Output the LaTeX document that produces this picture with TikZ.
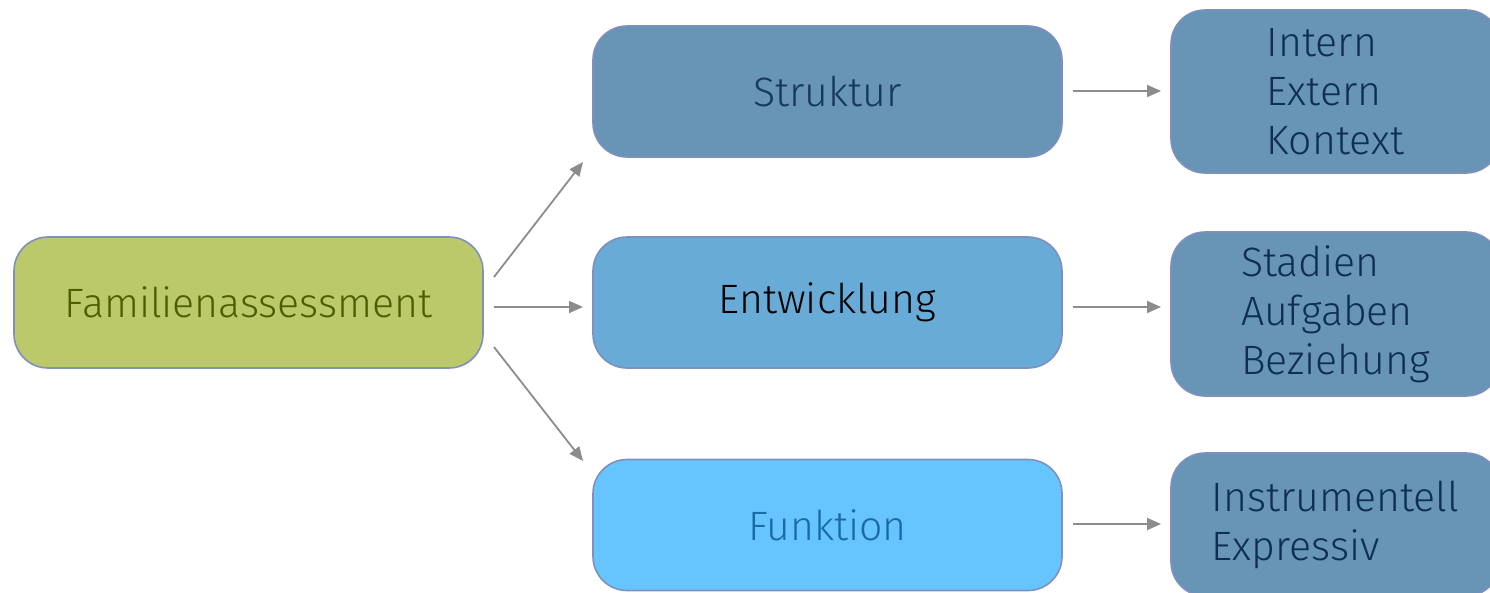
\documentclass[tikz,border=0pt]{standalone}
\usepackage{fontspec}
\setmainfont{Fira Sans Light}
\usetikzlibrary{arrows.meta}
\definecolor{edgeblue}{HTML}{7F90BE}
\definecolor{rootfill}{HTML}{BBC96B}
\definecolor{roottext}{HTML}{4C5E00}
\definecolor{strukfill}{HTML}{6894B5}
\definecolor{struktext}{HTML}{16385A}
\definecolor{entwfill}{HTML}{68ABD6}
\definecolor{funkfill}{HTML}{66C5FF}
\definecolor{funktext}{HTML}{1A6AA6}
\definecolor{detailfill}{HTML}{6894B5}
\definecolor{detailtext}{HTML}{0E2F4F}
\definecolor{arrowgray}{HTML}{8C8C8C}
\tikzset{
  box/.style={draw=edgeblue, line width=1.6pt, rounded corners=34pt,
    minimum width=469pt, minimum height=131pt, inner sep=0pt,
    font=\fontsize{41}{49}\selectfont},
  detail/.style={draw=edgeblue, line width=1.6pt, rounded corners=34pt,
    fill=detailfill, text=detailtext, minimum width=329pt, inner sep=0pt,
    align=left, font=\fontsize{41}{49}\selectfont},
  link/.style={draw=arrowgray, line width=1.8pt,
    -{Triangle[length=14pt,width=12pt]}}
}
\begin{document}
\begin{tikzpicture}[x=1pt,y=-1pt]
\useasboundingbox (0,0) rectangle (1490,592);
\clip (0,0) rectangle (1490,592);
% main column
\node[box, fill=rootfill, text=roottext] (root) at (248.5,302.5) {Familienassessment};
\node[box, fill=strukfill, text=struktext] (struk) at (827.5,91.5) {Struktur};
\node[box, fill=entwfill, text=black] (entw) at (827.5,302.5) {Entwicklung};
\node[box, fill=funkfill, text=funktext] (funk) at (827.5,525) {Funktion};
% detail boxes, running past the right edge
\node[detail, minimum height=163pt] (dstruk) at (1335.5,91.5) {Intern\\Extern\\Kontext};
\node[detail, minimum height=164pt] (dentw) at (1335.5,314) {Stadien\\Aufgaben\\Beziehung};
\node[detail, minimum height=143pt] (dfunk) at (1335.5,524.5) {Instrumentell\\Expressiv};
% connector end points, in the gaps between the boxes
\coordinate (r1) at (494,277);
\coordinate (r2) at (494,307);
\coordinate (r3) at (494,347);
\coordinate (t1) at (583,162);
\coordinate (t2) at (583,307);
\coordinate (t3) at (583,461);
\coordinate (a1) at (1073,91);
\coordinate (b1) at (1161,91);
\coordinate (a2) at (1073,307);
\coordinate (b2) at (1161,307);
\coordinate (a3) at (1073,524);
\coordinate (b3) at (1161,524);
\draw[link] (r1) -- (t1);
\draw[link] (r2) -- (t2);
\draw[link] (r3) -- (t3);
\draw[link] (a1) -- (b1);
\draw[link] (a2) -- (b2);
\draw[link] (a3) -- (b3);
\end{tikzpicture}
\end{document}
